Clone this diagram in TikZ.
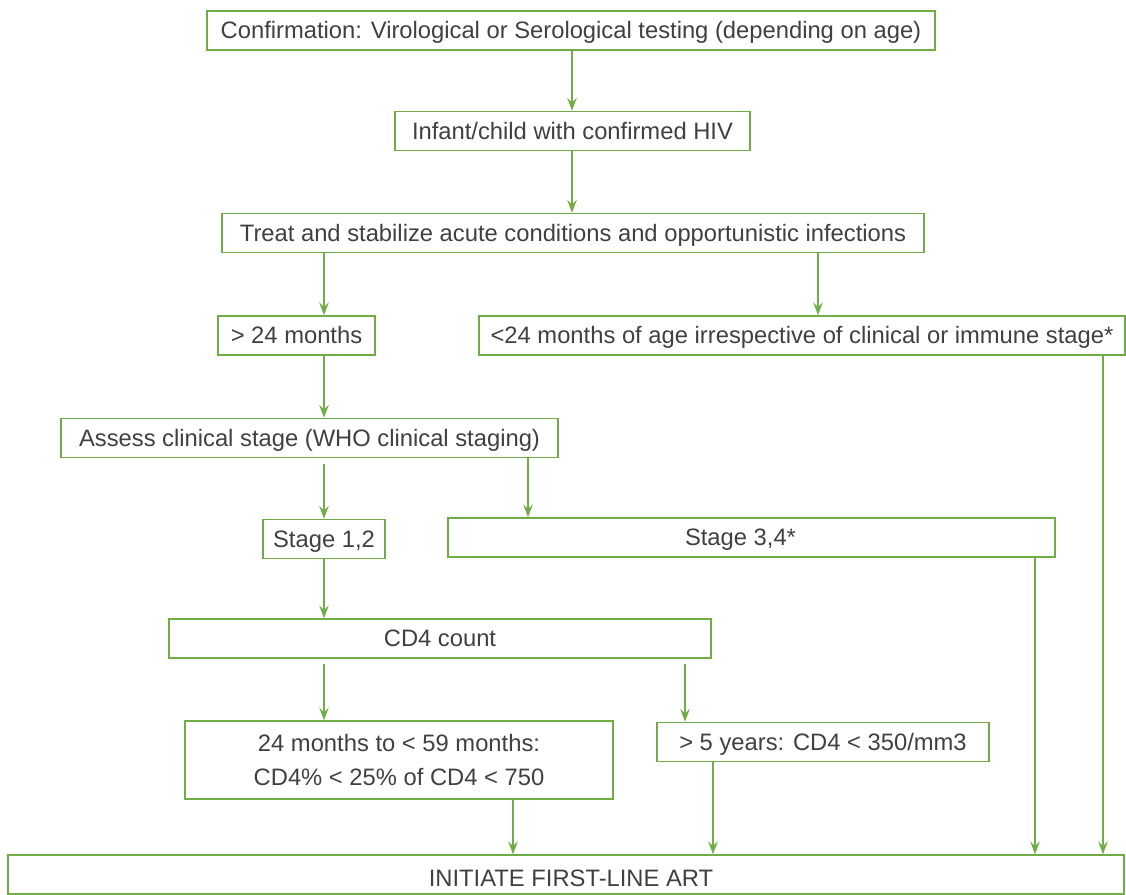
\documentclass[tikz,border=0pt]{standalone}
\usepackage{fontspec}
\setmainfont{Liberation Sans}
\usetikzlibrary{arrows.meta}
\definecolor{flowgreen}{RGB}{112,173,71}
\definecolor{flowtext}{RGB}{64,64,64}
\tikzset{stepbox/.style={draw=flowgreen, line width=1pt, text=flowtext, minimum height=#1, inner sep=0pt, align=center, text height=12pt, text depth=0pt, font=\fontsize{16.9}{20}\selectfont}}
\tikzset{stepbox/.default=0.98cm}
\tikzset{flow/.style={draw=flowgreen, line width=0.8pt, -{Stealth[length=3.2mm, width=2.4mm, inset=1.2mm]}}}

\begin{document}
\begin{tikzpicture}[x=0.025cm, y=-0.025cm]
            \useasboundingbox (0,0) rectangle (1126,895);
            % boxes, positions in pixels of the original chart
            \node[stepbox, minimum width=18.2cm] (conf) at (571,30.5) {Confirmation: Virological or Serological testing (depending on age)};
            \node[stepbox, minimum width=8.875cm] (infant) at (572.5,131) {Infant/child with confirmed HIV};
            \node[stepbox, minimum width=17.55cm] (treat) at (573,233) {Treat and stabilize acute conditions and opportunistic infections};
            \node[stepbox, minimum width=3.925cm] (older) at (296.5,335.5) {> 24 months};
            \node[stepbox, minimum width=16.15cm] (younger) at (802,335.5) {<24 months of age irrespective of clinical or immune stage*};
            \node[stepbox, minimum width=12.425cm] (assess) at (309.5,438) {Assess clinical stage (WHO clinical staging)};
            \node[stepbox, minimum width=3.05cm] (stagelow) at (324,539) {Stage 1,2};
            \node[stepbox, minimum width=15.175cm] (stagehigh) at (751.5,537.5) {Stage 3,4*\hspace*{0.55cm}};
            \node[stepbox, minimum width=13.55cm] (cdcount) at (440,638.5) {CD4 count};
            \node[stepbox=1.95cm, minimum width=10.7cm, text height={}, text depth={}] (cdyoung) at (399,760) {24 months to < 59 months:\\[4pt] CD4\% < 25\% of CD4 < 750};
            \node[stepbox, minimum width=8.3cm] (cdold) at (823,742) {> 5 years: CD4 < 350/mm3};
            \node[stepbox, minimum width=27.9cm, text height=17pt] (art) at (566,874.5) {\hspace*{0.25cm}INITIATE FIRST-LINE ART};
            % arrow columns
            \coordinate (xa) at (324,0);
            \coordinate (xb) at (572,0);
            \coordinate (xc) at (818,0);
            \coordinate (xd) at (528,0);
            \coordinate (xe) at (685,0);
            \draw[flow] (conf.south -| xb) -- (infant.north -| xb);
            \draw[flow] (infant.south -| xb) -- (treat.north -| xb);
            \draw[flow] (treat.south -| xa) -- (older.north -| xa);
            \draw[flow] (treat.south -| xc) -- (younger.north -| xc);
            \draw[flow] (older.south -| xa) -- (assess.north -| xa);
            \draw[flow, shorten <=4pt] (assess.south -| xa) -- (stagelow.north);
            \draw[flow] (assess.south -| xd) -- (stagehigh.north -| xd);
            \draw[flow] (stagelow.south) -- (cdcount.north -| xa);
            \draw[flow, shorten <=4pt] (cdcount.south -| xa) -- (cdyoung.north -| xa);
            \draw[flow, shorten <=4pt] (cdcount.south -| xe) -- (cdold.north -| xe);
            \foreach \from/\col in {cdyoung/513, cdold/713, stagehigh/1035, younger/1103} {
                \draw[flow] (\from.south -| \col,0) -- (art.north -| \col,0);
            }
        \end{tikzpicture}
\end{document}
